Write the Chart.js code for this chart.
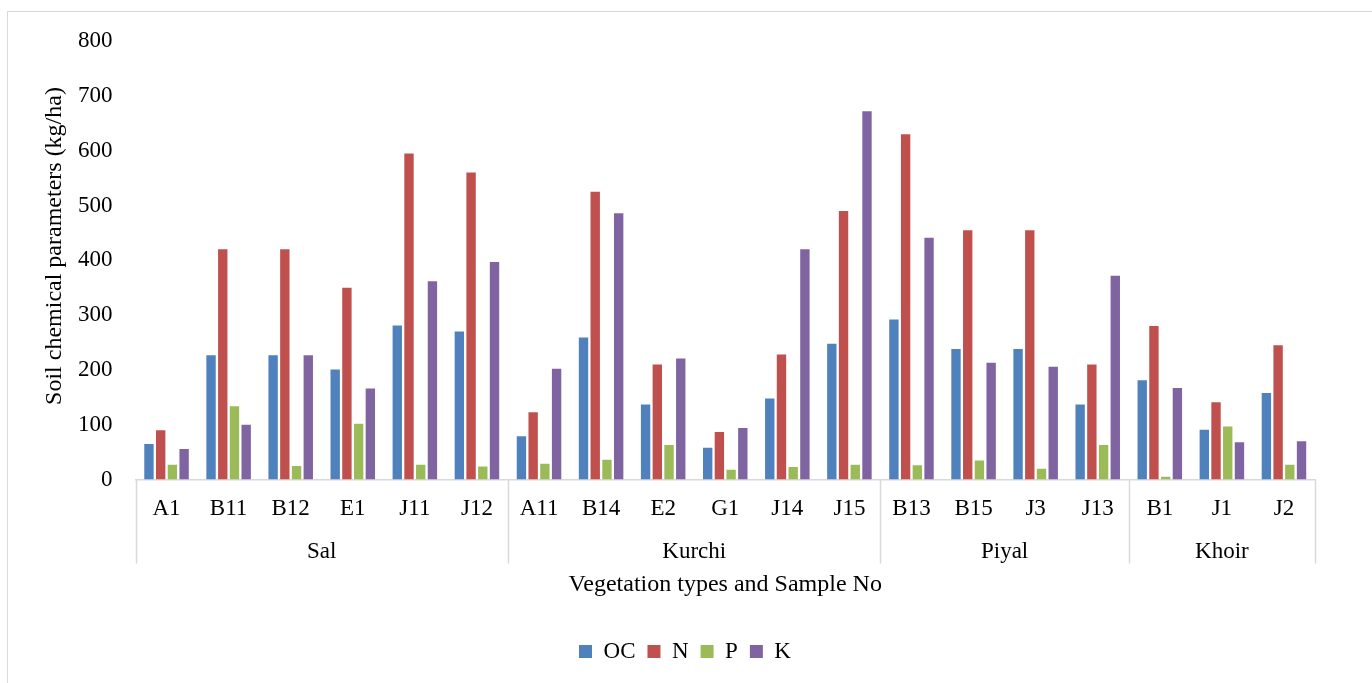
<!DOCTYPE html>
<html lang="en">
<head>
    <meta charset="UTF-8">
    <title>Soil chemical parameters</title>
    <script src="https://cdn.jsdelivr.net/npm/chart.js"></script>
    <style>
        body { margin: 0; background: #fff; }
        .moldura { position: absolute; left: 7px; top: 11px; width: 1372px; height: 680px; border: 1px solid #d9d9d9; box-sizing: border-box; }
        .caixa { position: absolute; left: 0; top: 0; width: 1372px; height: 683px; }
    </style>
</head>
<body>
    <div class="moldura"></div>
    <div class="caixa"><canvas id="grafico"></canvas></div>
<script>
    // amostras e grupos de vegetacao
    const amostras = ['A1', 'B11', 'B12', 'E1', 'J11', 'J12', 'A11', 'B14', 'E2', 'G1', 'J14', 'J15', 'B13', 'B15', 'J3', 'J13', 'B1', 'J1', 'J2'];
    const grupos = ['Sal', 'Kurchi', 'Piyal', 'Khoir'];
    const tamanhoGrupos = [6, 6, 4, 3];

    // valores (kg/ha)
    const valoresOC = [65, 227, 227, 201, 281, 270, 79, 259, 137, 58, 148, 248, 292, 238, 238, 137, 181, 91, 158];
    const valoresN = [90, 420, 420, 350, 595, 560, 123, 525, 210, 87, 228, 490, 630, 455, 455, 210, 280, 141, 245];
    const valoresP = [27, 134, 25, 102, 27, 24, 29, 36, 63, 18, 23, 27, 26, 35, 20, 63, 5, 97, 27];
    const valoresK = [56, 100, 227, 166, 362, 397, 202, 486, 221, 94, 420, 672, 441, 213, 206, 372, 167, 68, 70];

    const fonte = 'Liberation Serif';
    const tituloY = 'Soil chemical parameters (kg/ha)';

    // desenha os nomes dos grupos, as linhas separadoras e o titulo do eixo y
    const pluginGrupos = {
        id: 'grupos',
        afterDraw(chart) {
            const ctx = chart.ctx;
            const x = chart.scales.x;
            const area = chart.chartArea;
            const limites = [area.left];
            let i = 0;
            tamanhoGrupos.forEach(function (n) {
                i += n;
                if (i < amostras.length) {
                    limites.push((x.getPixelForTick(i - 1) + x.getPixelForTick(i)) / 2);
                } else {
                    limites.push(area.right);
                }
            });
            ctx.save();
            ctx.strokeStyle = '#d9d9d9';
            ctx.lineWidth = 1.5;
            limites.forEach(function (lx) {
                ctx.beginPath();
                ctx.moveTo(Math.round(lx) + 0.5, area.bottom);
                ctx.lineTo(Math.round(lx) + 0.5, area.bottom + 84);
                ctx.stroke();
            });
            ctx.fillStyle = '#000';
            ctx.font = '23px "' + fonte + '"';
            ctx.textAlign = 'center';
            ctx.textBaseline = 'middle';
            grupos.forEach(function (g, k) {
                ctx.fillText(g, (limites[k] + limites[k + 1]) / 2, area.bottom + 72);
            });

            // titulo do eixo y
            ctx.font = '24px "' + fonte + '"';
            ctx.translate(55, 246);
            ctx.rotate(-Math.PI / 2);
            ctx.fillText(tituloY, 0, 0);
            ctx.restore();
        }
    };

    const dados = {
        labels: amostras,
        datasets: [
            { label: 'OC', data: valoresOC, backgroundColor: '#4F81BD' },
            { label: 'N', data: valoresN, backgroundColor: '#C0504D' },
            { label: 'P', data: valoresP, backgroundColor: '#9BBB59' },
            { label: 'K', data: valoresK, backgroundColor: '#8064A2' }
        ]
    };

    const config = {
        type: 'bar',
        data: dados,
        options: {
            responsive: false,
            animation: false,
            layout: { padding: { left: 55, right: 57, top: 41, bottom: 10 } },
            datasets: { bar: { categoryPercentage: 0.755, barPercentage: 0.8 } },
            plugins: {
                legend: {
                    position: 'bottom',
                    labels: {
                        color: '#000',
                        font: { family: fonte, size: 23 },
                        boxWidth: 13,
                        boxHeight: 13,
                        padding: 12
                    }
                },
                tooltip: { enabled: false }
            },
            scales: {
                x: {
                    grid: { display: false, drawTicks: false },
                    border: { color: '#d9d9d9', width: 1.5 },
                    ticks: { color: '#000', font: { family: fonte, size: 23 }, padding: 16, maxRotation: 0 },
                    title: {
                        display: true,
                        text: 'Vegetation types and Sample No',
                        color: '#000',
                        font: { family: fonte, size: 24 },
                        padding: { top: 31, bottom: 29 }
                    }
                },
                y: {
                    min: 0,
                    max: 800,
                    grid: { display: false, drawTicks: false },
                    border: { display: false },
                    ticks: { stepSize: 100, color: '#000', font: { family: fonte, size: 23 }, padding: 23 }
                }
            }
        },
        plugins: [pluginGrupos]
    };

    const canvas = document.getElementById('grafico');
    canvas.width = 1372;
    canvas.height = 683;
    let grafico = new Chart(canvas, config);
</script>
</body>
</html>
